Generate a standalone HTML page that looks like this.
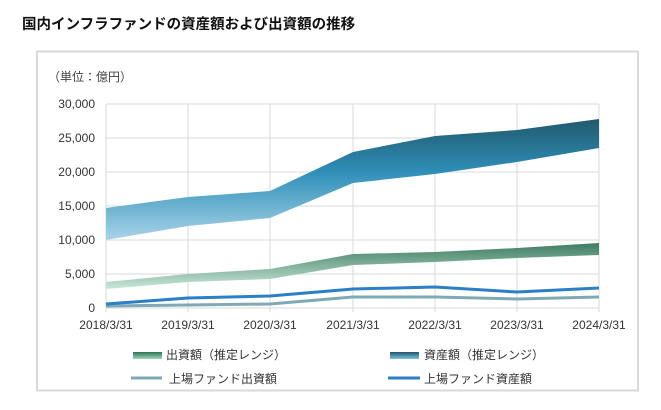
<!DOCTYPE html>
<html><head><meta charset="utf-8"><style>
body{margin:0;background:#fff;width:661px;height:410px;overflow:hidden}
svg{display:block;font-family:"Liberation Sans","Noto Sans CJK JP",sans-serif}
</style></head><body>
<svg width="661" height="410" viewBox="0 0 661 410">
<defs>
<linearGradient id="ga" x1="0" y1="0" x2="0" y2="1" gradientUnits="objectBoundingBox">
<stop offset="0" stop-color="#1f5a70"/><stop offset="0.45" stop-color="#2f92bb"/><stop offset="1" stop-color="#a9d3e8"/></linearGradient>
<linearGradient id="ga2" gradientUnits="userSpaceOnUse" x1="0" y1="115" x2="0" y2="242">
<stop offset="0" stop-color="#1f5568"/><stop offset="0.45" stop-color="#2f8fb8"/><stop offset="1" stop-color="#acd6ea"/></linearGradient>
<linearGradient id="ge" gradientUnits="userSpaceOnUse" x1="0" y1="242" x2="0" y2="290">
<stop offset="0" stop-color="#3a7a5e"/><stop offset="1" stop-color="#cdeadd"/></linearGradient>
<linearGradient id="gl1" x1="0" y1="0" x2="0" y2="1"><stop offset="0" stop-color="#2e7456"/><stop offset="1" stop-color="#9fd4ba"/></linearGradient>
<linearGradient id="gl2" x1="0" y1="0" x2="0" y2="1"><stop offset="0" stop-color="#1f5568"/><stop offset="1" stop-color="#7cc3e3"/></linearGradient>
</defs>
<text x="22" y="29" font-size="14.5" font-weight="bold" fill="#111">国内インフラファンドの資産額および出資額の推移</text>
<rect x="37" y="51.5" width="601" height="339" fill="none" stroke="#d9d9d9" stroke-width="2"/>
<text x="48" y="81" font-size="12" fill="#444">（単位：億円）</text>
<g stroke="#d9d9d9" stroke-width="1">
<line x1="106" y1="104" x2="599" y2="104"/><line x1="106" y1="138" x2="599" y2="138"/><line x1="106" y1="172" x2="599" y2="172"/><line x1="106" y1="206" x2="599" y2="206"/><line x1="106" y1="240" x2="599" y2="240"/><line x1="106" y1="274" x2="599" y2="274"/><line x1="106" y1="308" x2="599" y2="308"/>
<line x1="106" y1="104" x2="106" y2="312"/><line x1="188" y1="104" x2="188" y2="312"/><line x1="270" y1="104" x2="270" y2="312"/><line x1="353" y1="104" x2="353" y2="312"/><line x1="435" y1="104" x2="435" y2="312"/><line x1="517" y1="104" x2="517" y2="312"/><line x1="599" y1="104" x2="599" y2="312"/>
</g>
<g font-size="12" fill="#333" text-anchor="end">
<text x="95" y="108">30,000</text><text x="95" y="142">25,000</text><text x="95" y="176">20,000</text><text x="95" y="210">15,000</text><text x="95" y="244">10,000</text><text x="95" y="278">5,000</text><text x="95" y="312">0</text>
</g>
<g font-size="12" fill="#333" text-anchor="middle">
<text x="106" y="329">2018/3/31</text><text x="188" y="329">2019/3/31</text><text x="270" y="329">2020/3/31</text><text x="353" y="329">2021/3/31</text><text x="435" y="329">2022/3/31</text><text x="517" y="329">2023/3/31</text><text x="599" y="329">2024/3/31</text>
</g>
<polygon fill="url(#ga2)" points="106,208 188,197 270,191 353,152 435,136 517,130 599,119 599,148 517,162 435,174 353,183 270,218 188,226 106,240"/>
<polygon fill="url(#ge)" points="106,282 188,274 270,269 353,254 435,252 517,248 599,243 599,255 517,258 435,262 353,265 270,279 188,282 106,289"/>
<polyline fill="none" stroke="#7fa9b5" stroke-width="3" points="106,306 188,305 270,304 353,297 435,297 517,299 599,297"/>
<polyline fill="none" stroke="#2a7fc6" stroke-width="3" points="106,304 188,298 270,296 353,289 435,287 517,292 599,288"/>
<rect x="133" y="352" width="29" height="7" fill="url(#gl1)"/>
<text x="166" y="359" font-size="12" fill="#333">出資額（推定レンジ）</text>
<line x1="131" y1="378" x2="162" y2="378" stroke="#7fa9b5" stroke-width="3"/>
<text x="169" y="383" font-size="12" fill="#333">上場ファンド出資額</text>
<rect x="390" y="352" width="29" height="7" fill="url(#gl2)"/>
<text x="424" y="359" font-size="12" fill="#333">資産額（推定レンジ）</text>
<line x1="388" y1="378" x2="420" y2="378" stroke="#2a7fc6" stroke-width="3"/>
<text x="424" y="383" font-size="12" fill="#333">上場ファンド資産額</text>
</svg>
</body></html>
